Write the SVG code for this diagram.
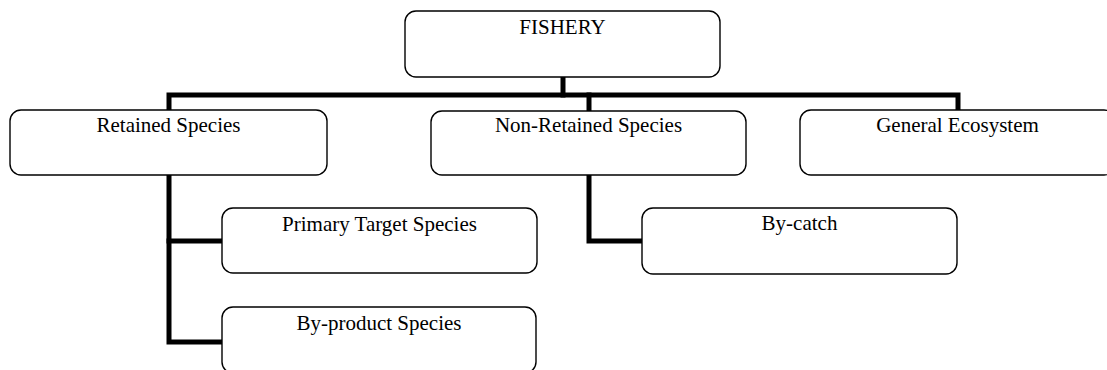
<svg xmlns="http://www.w3.org/2000/svg" width="1107" height="370" viewBox="0 0 1107 370">
  <style>
    .box { fill: #ffffff; stroke: #000000; stroke-width: 1.4; }
    .label { font-family: "Liberation Serif", "Times New Roman", serif; font-size: 21px; fill: #000000; text-anchor: middle; }
    .wire { fill: none; stroke: #000000; stroke-width: 5; stroke-linejoin: miter; stroke-linecap: square; }
  </style>
  <rect width="1107" height="370" fill="#ffffff"/>

  <!-- connectors -->
  <g id="connectors">
    <path class="wire" d="M563,78 V95"/>
    <path class="wire" d="M169,110 V95 H958 V110"/>
    <path class="wire" d="M589,95 V110"/>
    <path class="wire" d="M169,176 V342 H221"/>
    <path class="wire" d="M169,241 H221"/>
    <path class="wire" d="M589,176 V241 H641"/>
  </g>

  <g id="fishery">
    <rect class="box" x="405" y="11" width="315" height="66" rx="11"/>
    <text class="label" x="562.5" y="34">FISHERY</text>
  </g>

  <g id="retained">
    <rect class="box" x="10" y="110" width="317" height="65" rx="11"/>
    <text class="label" x="168.5" y="132">Retained Species</text>
  </g>

  <g id="non-retained">
    <rect class="box" x="431" y="111" width="315" height="64" rx="11"/>
    <text class="label" x="588.5" y="132">Non-Retained Species</text>
  </g>

  <g id="ecosystem">
    <rect class="box" x="800" y="110" width="315" height="65" rx="11"/>
    <text class="label" x="957.5" y="132">General Ecosystem</text>
  </g>

  <g id="primary">
    <rect class="box" x="222" y="208" width="315" height="65" rx="11"/>
    <text class="label" x="379.5" y="231">Primary Target Species</text>
  </g>

  <g id="byproduct">
    <rect class="box" x="222" y="307" width="314" height="66" rx="11"/>
    <text class="label" x="379" y="330">By-product Species</text>
  </g>

  <g id="bycatch">
    <rect class="box" x="642" y="208" width="315" height="66" rx="11"/>
    <text class="label" x="799.5" y="230">By-catch</text>
  </g>
</svg>
